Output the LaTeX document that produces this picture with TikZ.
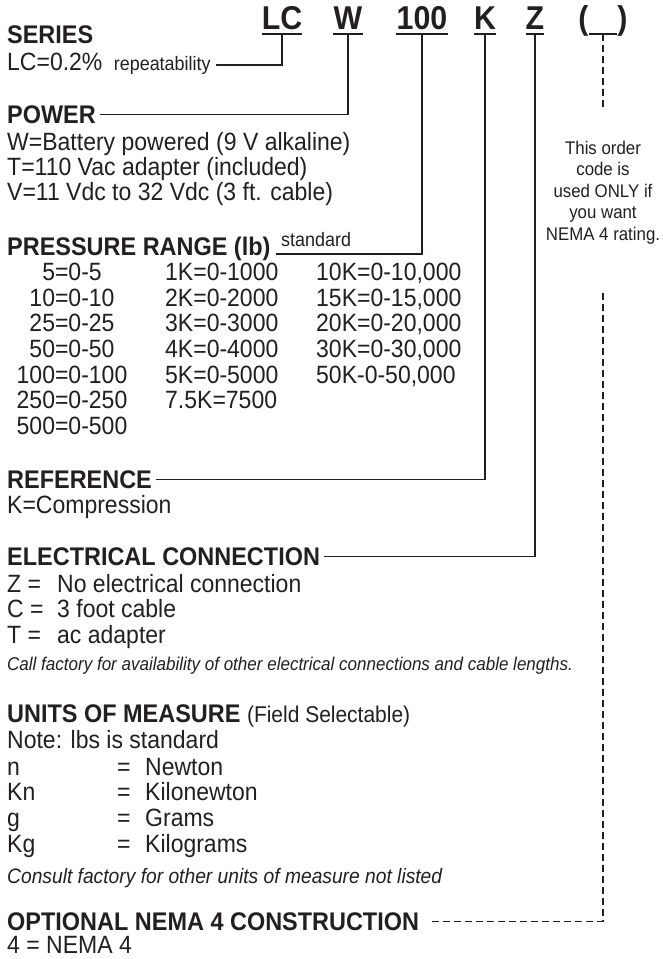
\documentclass[tikz,border=0pt]{standalone}
\usepackage{fontspec}
\setmainfont{Liberation Sans}[FakeStretch=0.92]
\definecolor{ink}{RGB}{35,31,32}
\begin{document}
\begin{tikzpicture}[x=1pt, y=-1pt,
    every node/.style={text=ink, inner sep=0pt},
    code/.style={font=\fontsize{33}{35}\selectfont\bfseries, anchor=base, inner ysep=5pt, text depth=0pt},
    head/.style={font=\fontsize{25.5}{28}\selectfont\bfseries, anchor=base west, inner xsep=4pt},
    body/.style={font=\fontsize{25}{27}\selectfont, anchor=base west},
    col/.style={font=\fontsize{25}{27}\selectfont, anchor=base},
    small/.style={font=\fontsize{19.5}{21}\selectfont, anchor=base west, inner xsep=5pt},
    remark/.style={font=\fontsize{18.5}{21}\selectfont\itshape, anchor=base west},
    note/.style={font=\fontsize{18.3}{21.5}\selectfont, align=center},
    uline/.style={draw=ink, line width=2pt},
    wire/.style={draw=ink, line width=1.4pt},
    dashwire/.style={draw=ink, line width=1.4pt, dash pattern=on 6.5pt off 4.5pt}
]
\useasboundingbox (0,0) rectangle (663,959);

% Order code
\node[code] (lc) at (282,29) {LC};
\node[code] (w) at (348,29) {W};
\node[code] (hundred) at (422,29) {100};
\node[code] (k) at (485,29) {K};
\node[code] (z) at (535,29) {Z};
\node[code, minimum width=28pt] (blank) at (603,29) {};
\node[code, anchor=base east] (lpar) at (blank.base west) {(};
\node[code, anchor=base west] (rpar) at (blank.base east) {)};
\foreach \c in {lc,w,hundred,k,z,blank}
    \draw[uline] (\c.south west) -- (\c.south east);

% Series
\node[head] (series) at (3,43) {SERIES};
\node[body] (seriesval) at (7,70) {LC=0.2\%};
\node[small] (rep) at ([xshift=6pt]seriesval.base east) {repeatability};

% Power
\node[head] (power) at (3,123) {POWER};
\node[body] (pw) at (7,150) {W=Battery powered (9 V alkaline)};
\node[body] (pt) at (7,175) {T=110 Vac adapter (included)};
\node[body] (pv) at (7,200) {V=11 Vdc to 32 Vdc (3 ft. cable)};

% Pressure range
\node[head] (range) at (3,255) {PRESSURE RANGE (lb)};
\node[small] (std) at (276,246) {standard};
\node[col] (ra1) at (72,280) {5=0-5};
\node[col] (ra2) at (72,306) {10=0-10};
\node[col] (ra3) at (72,331) {25=0-25};
\node[col] (ra4) at (72,357) {50=0-50};
\node[col] (ra5) at (72,383) {100=0-100};
\node[col] (ra6) at (72,408) {250=0-250};
\node[col] (ra7) at (72,434) {500=0-500};
\node[body] (rb1) at (165,280) {1K=0-1000};
\node[body] (rb2) at (165,306) {2K=0-2000};
\node[body] (rb3) at (165,331) {3K=0-3000};
\node[body] (rb4) at (165,357) {4K=0-4000};
\node[body] (rb5) at (165,383) {5K=0-5000};
\node[body] (rb6) at (165,408) {7.5K=7500};
\node[body] (rc1) at (316,280) {10K=0-10,000};
\node[body] (rc2) at (316,306) {15K=0-15,000};
\node[body] (rc3) at (316,331) {20K=0-20,000};
\node[body] (rc4) at (316,357) {30K=0-30,000};
\node[body] (rc5) at (316,383) {50K-0-50,000};

% Reference
\node[head] (refhead) at (3,488) {REFERENCE};
\node[body] (refk) at (7,513) {K=Compression};

% Electrical connection
\node[head] (elec) at (3,565) {ELECTRICAL CONNECTION};
\node[body] (ez) at (7,592) {Z =};
\node[body] (ec) at (7,617) {C =};
\node[body] (et) at (7,643) {T =};
\node[body] (ezv) at (57,592) {No electrical connection};
\node[body] (ecv) at (57,617) {3 foot cable};
\node[body] (etv) at (57,643) {ac adapter};
\node[remark] (callf) at (7,670) {Call factory for availability of other electrical connections and cable lengths.};

% Units of measure
\node[head] (units) at (3,722) {UNITS OF MEASURE {\fontsize{22.8}{25}\selectfont\mdseries (Field Selectable)}};
\node[body] (unote) at (7,748) {Note: lbs is standard};
\node[body] (un) at (7,775) {n};
\node[body] (ukn) at (7,800) {Kn};
\node[body] (ug) at (7,826) {g};
\node[body] (ukg) at (7,852) {Kg};
\foreach \u/\v in {un/Newton, ukn/Kilonewton, ug/Grams, ukg/Kilograms} {
    \node[body] (\u eq) at (117,0 |- \u.base) {=};
    \node[body] (\u val) at (145,0 |- \u.base) {\v};
}
\node[remark, font=\fontsize{20.9}{23}\selectfont\itshape] (consult) at (7,883) {Consult factory for other units of measure not listed};

% Optional NEMA 4
\node[head] (opt) at (3,930) {OPTIONAL NEMA 4 CONSTRUCTION};
\node[body] (nema) at (7,953) {4 = NEMA 4};
\node[note] (note) at (603,192.6) {This order\\code is\\used ONLY if\\you want\\NEMA 4 rating.};

% Connectors
\draw[wire] (lc.south) |- (rep.east);
\draw[wire] (w.south) |- (power.east);
\draw[wire] (hundred.south) |- ([yshift=-8pt]std.base west);
\draw[wire] (k.south) |- (refhead.east);
\draw[wire] (z.south) |- (elec.east);
\draw[dashwire, shorten >=31pt] (blank.south) -- (note.north);
\draw[dashwire, shorten <=49pt] (note.south) |- ([xshift=6pt]opt.east);
\end{tikzpicture}
\end{document}
